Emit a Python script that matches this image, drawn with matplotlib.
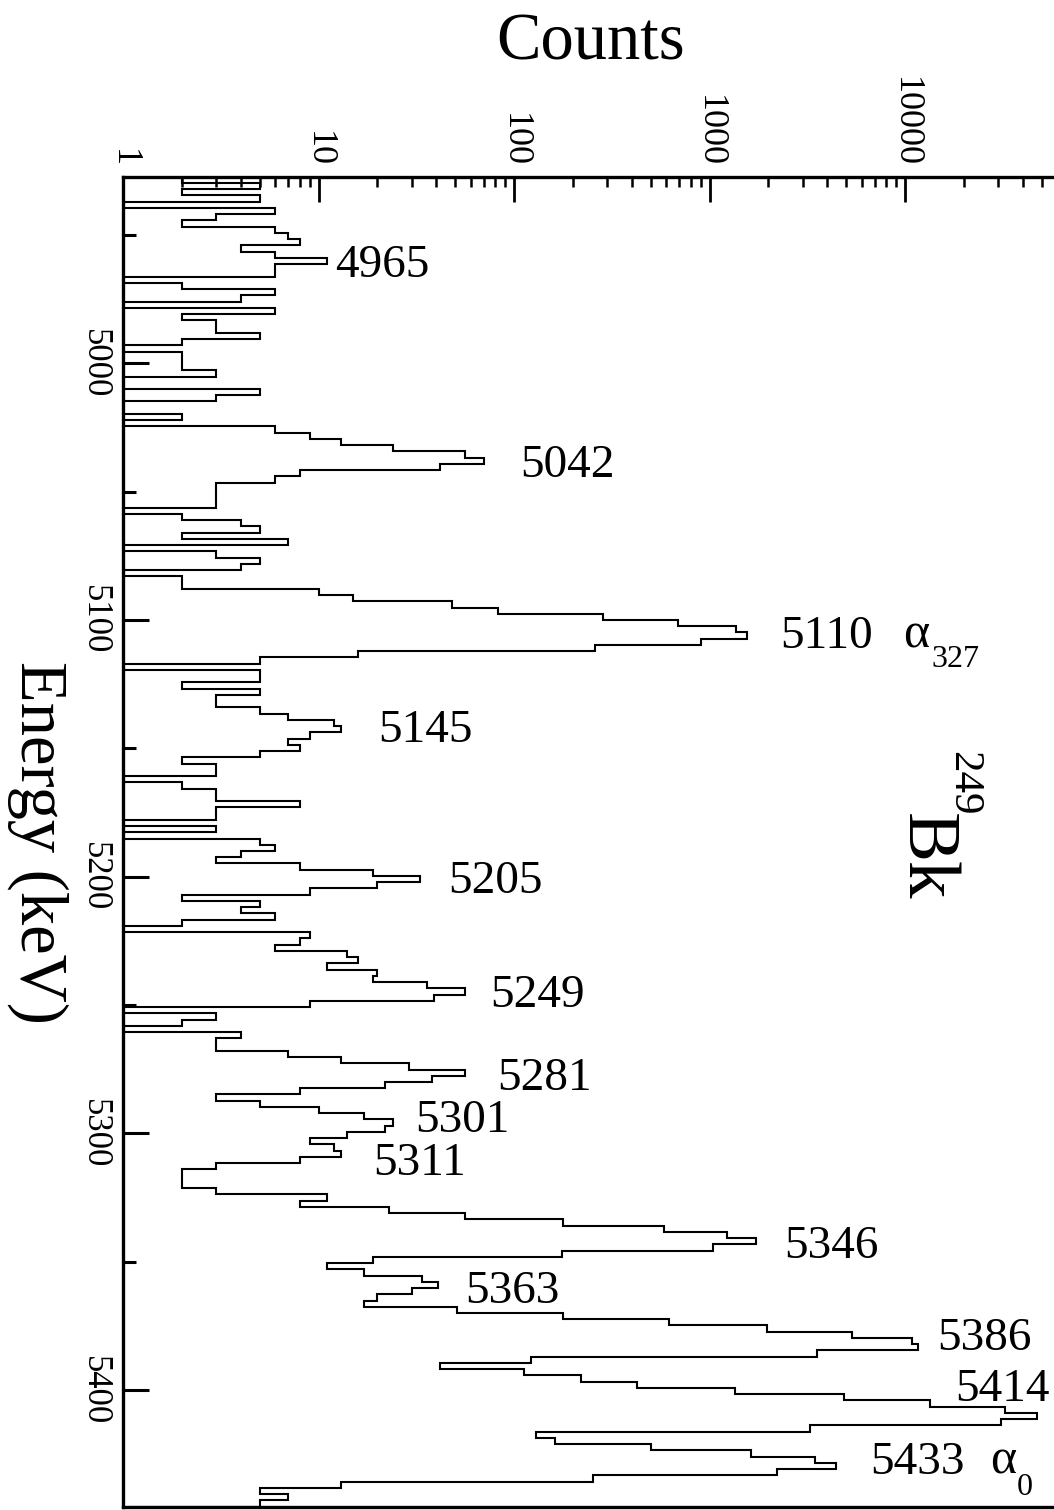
import numpy as np
import matplotlib
matplotlib.use("Agg")
import matplotlib.pyplot as plt
from matplotlib.ticker import FixedLocator, LogLocator, NullFormatter, FixedFormatter

# ---------------- data ----------------
# counts per energy bin, from the top of the spectrum (low energy) downward
counts = [
    2, 5, 2, 5, 1, 6, 3, 2, 6, 7,            # 0-9
    8, 4, 6, 11, 6, 6, 1, 2, 6, 4,           # 10-19
    1, 6, 2, 3, 3, 5, 2, 1, 2, 2,            # 20-29
    2, 3, 1, 1, 5, 3, 1, 1, 2, 1,            # 30-39
    6, 9, 13, 24, 56, 70, 42, 8, 6, 3,       # 40-49
    3, 3, 3, 1, 2, 4, 5, 2, 7, 1,            # 50-59
    3, 5, 4, 1, 2, 2, 10, 15, 48, 83,        # 60-69
    286, 690, 1370, 1550, 900, 260, 16, 5, 1, 5,   # 70-79
    5, 2, 5, 3, 3, 5, 7, 12, 13, 9,          # 80-89
    7, 8, 5, 2, 3, 3, 1, 2, 3, 3,            # 90-99
    8, 3, 3, 1, 3, 1, 5, 6, 4, 3,            # 100-109
    8, 19, 33, 20, 9, 2, 5, 4, 6, 2,         # 110-119
    1, 9, 8, 6, 14, 16, 11, 20, 19, 36,      # 120-129
    56, 39, 9, 1, 3, 2, 1, 4, 3, 3,          # 130-139
    7, 13, 29, 56, 38, 22, 8, 3, 5, 10,      # 140-149
    17, 24, 22, 14, 9, 12, 13, 8, 3, 2,      # 150-159
    2, 2, 3, 11, 8, 23, 56, 179, 584, 1222,  # 160-169
    1722, 1045, 175, 19, 11, 17, 34, 41, 30, 20,   # 170-179
    17, 51, 179, 619, 1965, 5350, 10900, 11700, 3540, 122,  # 180-189
    42, 113, 219, 427, 1343, 4850, 13500, 32600, 47400, 30800,  # 190-199
    3270, 130, 162, 500, 1633, 3460, 4450, 2220, 253, 13,  # 200-209
    5, 7, 5,                                  # 210-212
]
first_edge_kev = 4927.3
bin_width_kev = 2.432

energy_ticks = [5000, 5100, 5200, 5300, 5400]
energy_minor = [4950, 5050, 5150, 5250, 5350, 5450]
count_ticks = [1, 10, 100, 1000, 10000]
count_tick_labels = ["1", "10", "100", "1000", "10000"]

peak_labels = ["4965", "5042", "5110", "5145", "5205", "5249", "5281",
               "5301", "5311", "5346", "5363", "5386", "5414", "5433"]

# ---------------- figure ----------------
plt.rcParams["font.family"] = ["Liberation Serif", "DejaVu Serif"]
W, H = 1054, 1510
fig = plt.figure(figsize=(W / 100, H / 100), dpi=100)


def fx(x):
    return x / W


def fy(y):
    return 1 - y / H


x0, x1 = 123, 1060
ytop, ybot = 177, 1507
ax = fig.add_axes([fx(x0), fy(ybot), (x1 - x0) / W, (ybot - ytop) / H])

edges = first_edge_kev + bin_width_kev * np.arange(len(counts) + 1)
ax.stairs(counts, edges, orientation="horizontal", baseline=1,
          color="black", linewidth=1.5)

ax.set_xscale("log")
decade_px = 195.5
ax.set_xlim(1, 10 ** ((x1 - x0) / decade_px))
ax.set_ylim(5445.5, 4927.4)

# top (count) axis
ax.xaxis.tick_top()
ax.xaxis.set_major_locator(FixedLocator(count_ticks))
ax.xaxis.set_major_formatter(FixedFormatter(count_tick_labels))
ax.xaxis.set_minor_locator(LogLocator(base=10, subs=range(2, 10), numticks=50))
ax.xaxis.set_minor_formatter(NullFormatter())
ax.tick_params(axis="x", which="major", direction="in", length=18, width=2,
               top=True, bottom=False, labeltop=True, labelbottom=False,
               labelsize=26, labelrotation=-90, pad=7)
ax.tick_params(axis="x", which="minor", direction="in", length=7, width=1.8,
               top=True, bottom=False)

# left (energy) axis
ax.yaxis.set_major_locator(FixedLocator(energy_ticks))
ax.yaxis.set_minor_locator(FixedLocator(energy_minor))
ax.tick_params(axis="y", which="major", direction="in", length=19, width=2.2,
               left=True, right=False, labelsize=25, pad=9)
ax.tick_params(axis="y", which="minor", direction="in", length=9, width=2.2,
               left=True, right=False)
for lab in ax.get_yticklabels():
    lab.set_rotation(-90)
    lab.set_va("center")

for side in ["left", "top", "bottom"]:
    ax.spines[side].set_linewidth(2.4)
ax.spines["right"].set_visible(False)

# axis titles
fig.text(fx(591), fy(60), "Counts", fontsize=48, ha="center", va="baseline")
fig.text(fx(38), fy(842), "Energy (keV)", fontsize=48, rotation=-90,
         ha="center", va="center")
fig.text(fx(925), fy(857), "Bk", fontsize=54, rotation=-90,
         ha="center", va="center")
fig.text(fx(963), fy(783), "249", fontsize=31, rotation=-90,
         ha="center", va="center")

# peak labels (left x, baseline y in pixels)
label_px = [(335, 277), (520, 477), (780, 648), (378, 742), (448, 893),
            (490, 1007), (497, 1090), (415, 1132), (373, 1175), (784, 1258),
            (465, 1303), (937, 1350), (955, 1401), (870, 1474)]
for txt, (px, py) in zip(peak_labels, label_px):
    fig.text(fx(px), fy(py), txt, fontsize=34, ha="left", va="baseline")

# alpha designations
fig.text(fx(903), fy(648), "\u03b1", fontsize=36, ha="left", va="baseline")
fig.text(fx(931), fy(667), "327", fontsize=23, ha="left", va="baseline")
fig.text(fx(990), fy(1474), "\u03b1", fontsize=36, ha="left", va="baseline")
fig.text(fx(1017), fy(1495), "0", fontsize=23, ha="left", va="baseline")

fig.savefig("out.png", dpi=100)
